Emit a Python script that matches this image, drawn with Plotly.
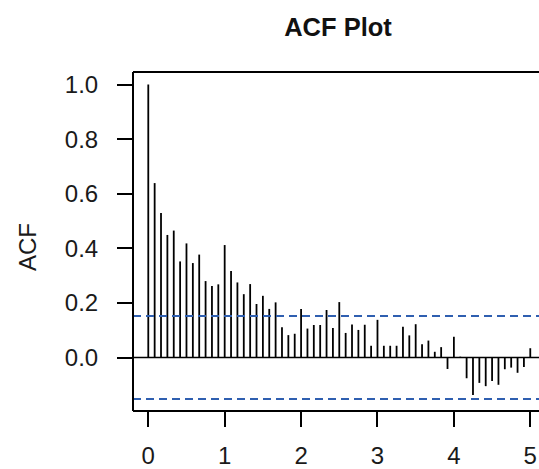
import plotly.graph_objects as go

# ACF values for lags 0..60 (lag unit = 1/12 on the x axis)
lags = list(range(61))
acf_values = [
    1.000, 0.639, 0.529, 0.449, 0.465, 0.352, 0.418, 0.346, 0.377, 0.280,
    0.262, 0.268, 0.412, 0.317, 0.275, 0.232, 0.269, 0.196, 0.226, 0.178,
    0.202, 0.111, 0.082, 0.087, 0.178, 0.106, 0.119, 0.119, 0.174, 0.108,
    0.203, 0.090, 0.121, 0.101, 0.120, 0.043, 0.138, 0.043, 0.043, 0.043,
    0.113, 0.081, 0.122, 0.049, 0.062, 0.021, 0.038, -0.042, 0.076, 0.003,
    -0.076, -0.137, -0.093, -0.105, -0.086, -0.100, -0.043, -0.037, -0.056, -0.035,
    0.034,
]
frequency = 12
ci_level = 0.152
x_tick_values = [0, 1, 2, 3, 4, 5]
y_tick_values = [0.0, 0.2, 0.4, 0.6, 0.8, 1.0]
y_tick_labels = ["0.0", "0.2", "0.4", "0.6", "0.8", "1.0"]

FONT = "Liberation Sans, Arial, Helvetica, sans-serif"

xs, ys = [], []
for lag, v in zip(lags, acf_values):
    t = lag / frequency
    xs += [t, t, None]
    ys += [0, v, None]

fig = go.Figure()
fig.add_trace(go.Scatter(x=xs, y=ys, mode="lines",
                         line=dict(color="black", width=1.8),
                         hoverinfo="skip", showlegend=False))
fig.add_hline(y=0, line=dict(color="black", width=1.6))
for c in (ci_level, -ci_level):
    fig.add_hline(y=c, line=dict(color="#2f5fb0", width=1.8, dash="8px,5px"))

# box (left, top, bottom; right edge is outside the picture)
for (x0, y0, x1, y1) in [(0, 0, 0, 1), (0, 1, 1, 1), (0, 0, 1, 0)]:
    fig.add_shape(type="line", xref="paper", yref="paper",
                  x0=x0, y0=y0, x1=x1, y1=y1,
                  line=dict(color="black", width=2))

W, H = 539, 469
L, T = 133, 72
plot_bottom = 411
B = H - plot_bottom
unit = 76.4
x_max = -0.2 + (W - L) / unit

fig.update_layout(
    width=W, height=H,
    margin=dict(l=L, r=0, t=T, b=B),
    plot_bgcolor="white", paper_bgcolor="white",
    font=dict(family=FONT, size=24, color="#1a1a1a"),
    title=dict(text="<b>ACF Plot</b>", x=338 / W, xref="container",
               y=1 - 27 / H, yref="container", xanchor="center", yanchor="middle",
               font=dict(family=FONT, size=25.5, color="#111111")),
    xaxis=dict(range=[-0.2, x_max], showgrid=False, zeroline=False,
               showline=False, ticks="outside", ticklen=15, tickwidth=1.6,
               tickcolor="black", tickvals=x_tick_values,
               ticklabelstandoff=8),
    yaxis=dict(range=[-0.196, 1.046], showgrid=False, zeroline=False,
               showline=False, ticks="outside", ticklen=15, tickwidth=1.6,
               tickcolor="black", tickvals=y_tick_values, ticktext=y_tick_labels,
               ticklabelstandoff=14),
    annotations=[dict(text="ACF", xref="paper", yref="paper",
                      x=(27 - L) / (W - L), y=(plot_bottom - 247) / (plot_bottom - T),
                      xanchor="center", yanchor="middle", textangle=-90,
                      showarrow=False, font=dict(family=FONT, size=24, color="#1a1a1a"))],
)

fig.write_html("out.html",
               config={"displayModeBar": False},
               post_script="document.body.style.margin='0';document.body.style.overflow='hidden';")
